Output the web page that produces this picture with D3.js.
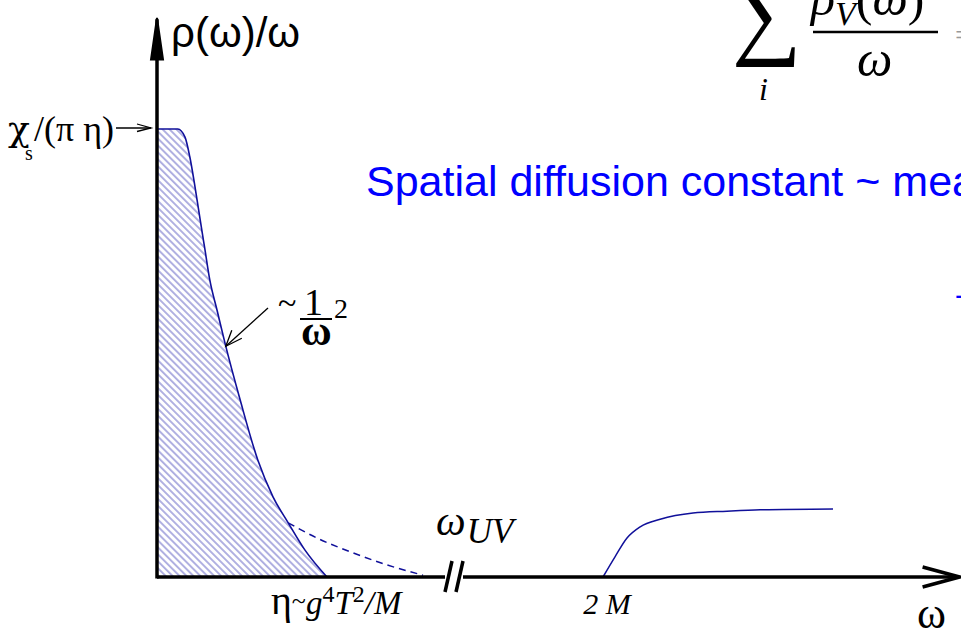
<!DOCTYPE html>
<html>
<head>
<meta charset="utf-8">
<script src="https://cdn.jsdelivr.net/npm/d3@7"></script>
<style>
  html, body { margin: 0; padding: 0; background: #fff; }
  svg { display: block; }
  .serif { font-family: "Liberation Serif", "DejaVu Serif", serif; }
  .sans { font-family: "Liberation Sans", Arial, sans-serif; }
</style>
</head>
<body>
<script>
// ---- data (in chart units: x = frequency, y = rho(omega)/omega, peak = 1) ----
const peakX = [0, 2.6, 3.5, 4.1, 4.75, 5.4, 6.0, 6.6, 7.5, 8.5, 10.4, 12.6, 14.5, 16.4, 18.5, 21.25];
const peakY = [1.0, 1.0, 0.982, 0.938, 0.871, 0.797, 0.730, 0.663, 0.596, 0.522, 0.395, 0.261, 0.179, 0.121, 0.060, 0.0];
const tailX = [16.4, 20.0, 24.5, 28.75, 33.25];
const tailY = [0.121, 0.087, 0.054, 0.027, 0.004];
const contX = [55.75, 57.25, 58.75, 60.4, 62.9, 67.0, 71.25, 75.4, 84.5];
const contY = [0.0, 0.045, 0.087, 0.112, 0.129, 0.143, 0.147, 0.150, 0.152];
const axisBreak = [36.0, 38.25];   // gap in the frequency axis
const markTwoM = 55.75;
const markEta = 22.4;

const W = 961, H = 632;
const svg = d3.select("body").append("svg").attr("width", W).attr("height", H);

const x = d3.scaleLinear().domain([0, 100]).range([157, 957]);
const y = d3.scaleLinear().domain([0, 1]).range([577, 129]);

// hatch pattern
const defs = svg.append("defs");
const pat = defs.append("pattern")
  .attr("id", "hatch").attr("patternUnits", "userSpaceOnUse")
  .attr("width", 4.9).attr("height", 4.9)
  .attr("patternTransform", "rotate(45)");
pat.append("line").attr("x1", -1).attr("y1", 1).attr("x2", 10).attr("y2", 1)
  .attr("stroke", "#5252bd").attr("stroke-width", 0.9);

const peak = peakX.map((v, i) => [v, peakY[i]]);
const tail = tailX.map((v, i) => [v, tailY[i]]);
const cont = contX.map((v, i) => [v, contY[i]]);

// hatched area
svg.append("path").datum(peak)
  .attr("d", d3.area().x(d => x(d[0])).y0(y(0)).y1(d => y(d[1])).curve(d3.curveMonotoneX))
  .attr("fill", "url(#hatch)");

const line = d3.line().x(d => x(d[0])).y(d => y(d[1])).curve(d3.curveMonotoneX);
svg.append("path").datum(peak).attr("d", line)
  .attr("fill", "none").attr("stroke", "#10109a").attr("stroke-width", 1.6);
svg.append("path").datum(tail).attr("d", line)
  .attr("fill", "none").attr("stroke", "#10109a").attr("stroke-width", 1.5)
  .attr("stroke-dasharray", "7,5");
svg.append("path").datum(cont).attr("d", line)
  .attr("fill", "none").attr("stroke", "#10109a").attr("stroke-width", 1.5);

// axes
const ax = svg.append("g").attr("stroke", "#000").attr("fill", "none").attr("stroke-linecap", "butt");
ax.append("line").attr("x1", x(0)).attr("x2", x(axisBreak[0])).attr("y1", y(0)).attr("y2", y(0)).attr("stroke-width", 3.5);
ax.append("line").attr("x1", x(axisBreak[1])).attr("x2", x(100.2)).attr("y1", y(0)).attr("y2", y(0)).attr("stroke-width", 3.5);
ax.append("polyline").attr("points", [[x(95.7), y(0) - 10], [x(100.3), y(0)], [x(95.7), y(0) + 10]].join(" "))
  .attr("stroke-width", 3.5);
ax.append("line").attr("x1", x(0)).attr("x2", x(0)).attr("y1", y(0) + 1.5).attr("y2", y(1.245)).attr("stroke-width", 3.5);
ax.append("path").attr("d", `M${x(0) - 6},${y(1.155)} L${x(0)},${y(1.248)} L${x(0) + 6},${y(1.155)} Z`)
  .attr("stroke-width", 2).attr("fill", "#000").attr("stroke-linejoin", "miter");
// break marks
const bm = (x(axisBreak[0]) + x(axisBreak[1])) / 2;
[-5, 6].forEach(o => {
  ax.append("line").attr("x1", bm + o + 3).attr("y1", y(0) - 16).attr("x2", bm + o - 4).attr("y2", y(0) + 15)
    .attr("stroke-width", 3.5);
});

// annotation arrows
const ann = svg.append("g").attr("stroke", "#000").attr("fill", "none").attr("stroke-width", 1.3);
ann.append("line").attr("x1", 116).attr("y1", y(1) - 1).attr("x2", x(0) - 6).attr("y2", y(1) - 1);
ann.append("polyline").attr("points", [[x(0) - 20, y(1) - 5], [x(0) - 6, y(1) - 1], [x(0) - 20, y(1) + 2.5]].join(" "));
const tip = [x(8.6), y(0.515)];
ann.append("line").attr("x1", 268).attr("y1", 308).attr("x2", tip[0]).attr("y2", tip[1]);
ann.append("polyline").attr("points", [[tip[0] + 6, tip[1] - 16], tip, [tip[0] + 16, tip[1] - 8]].join(" "));

// texts
svg.append("text").attr("class", "sans").attr("x", 171).attr("y", 47).attr("font-size", 42)
  .text("ρ(ω)/ω");

const chi = svg.append("text").attr("class", "serif").attr("font-size", 36).attr("y", 141);
chi.append("tspan").attr("x", 8).attr("font-size", 36).attr("font-family", "DejaVu Serif").text("χ");
chi.append("tspan").attr("x", 25).attr("y", 160).attr("font-size", 20).text("s");
chi.append("tspan").attr("x", 34).attr("y", 141).text("/(π η)");

// ~ 1/omega^2
const g2 = svg.append("g").attr("class", "serif");
g2.append("text").attr("x", 278).attr("y", 314).attr("font-size", 34).text("~");
g2.append("text").attr("x", 304).attr("y", 315).attr("font-size", 38).text("1");
g2.append("line").attr("x1", 300).attr("x2", 332).attr("y1", 319).attr("y2", 319).attr("stroke", "#000").attr("stroke-width", 2);
g2.append("text").attr("x", 301).attr("y", 345).attr("font-size", 42).attr("font-weight", "bold").text("ω");
g2.append("text").attr("x", 334).attr("y", 318).attr("font-size", 28).text("2");

// eta label
const eta = svg.append("text").attr("class", "serif").attr("font-size", 40).attr("y", 614)
  .attr("x", x(markEta)).attr("text-anchor", "middle");
eta.append("tspan").text("η");
eta.append("tspan").attr("font-size", 26).attr("dy", -5).text("~");
eta.append("tspan").attr("font-style", "italic").attr("font-size", 33).attr("dy", 5).text("g");
eta.append("tspan").attr("font-size", 24).attr("dy", -12).text("4");
eta.append("tspan").attr("font-style", "italic").attr("font-size", 33).attr("dy", 12).text("T");
eta.append("tspan").attr("font-size", 24).attr("dy", -12).text("2");
eta.append("tspan").attr("font-style", "italic").attr("font-size", 33).attr("dy", 12).text("/M");

// omega_UV
const wuv = svg.append("text").attr("class", "serif").attr("font-style", "italic").attr("x", 436).attr("y", 535);
wuv.append("tspan").attr("font-size", 42).text("ω");
wuv.append("tspan").attr("font-size", 35).attr("dy", 8).attr("dx", 1).text("UV");

// 2M
svg.append("text").attr("class", "serif").attr("font-style", "italic").attr("font-size", 30)
  .attr("x", x(markTwoM) + 4).attr("y", 614).attr("text-anchor", "middle").text("2 M");

// omega axis label
svg.append("text").attr("class", "serif").attr("font-size", 44).attr("x", 917).attr("y", 628).text("ω");

// sum formula (top right, clipped)
const sf = svg.append("g").attr("class", "serif");
sf.append("text").attr("x", 732).attr("y", 46).attr("font-size", 98).text("∑");
sf.append("text").attr("x", 759).attr("y", 100).attr("font-size", 32).attr("font-style", "italic").text("i");
const num = sf.append("text").attr("x", 811).attr("y", 15).attr("font-size", 50).attr("font-style", "italic");
num.append("tspan").text("ρ");
num.append("tspan").attr("font-size", 34).attr("dy", 10).text("V");
num.append("tspan").attr("dy", -10).attr("font-style", "normal").text("(");
num.append("tspan").text("ω");
num.append("tspan").attr("font-style", "normal").text(")");
sf.append("line").attr("x1", 813).attr("x2", 938).attr("y1", 32).attr("y2", 32).attr("stroke", "#000").attr("stroke-width", 2.5);
sf.append("text").attr("x", 857).attr("y", 76).attr("font-size", 50).attr("font-style", "italic").text("ω");
sf.append("text").attr("x", 955).attr("y", 45).attr("font-size", 30).attr("fill", "#999").text("=");

// blue statement
svg.append("text").attr("class", "sans").attr("x", 366).attr("y", 196).attr("font-size", 43)
  .attr("fill", "#0000ff").text("Spatial diffusion constant ~ mean free path");
svg.append("text").attr("class", "sans").attr("x", 955).attr("y", 305).attr("font-size", 30)
  .attr("fill", "#0000ff").text("-");
</script>
</body>
</html>
